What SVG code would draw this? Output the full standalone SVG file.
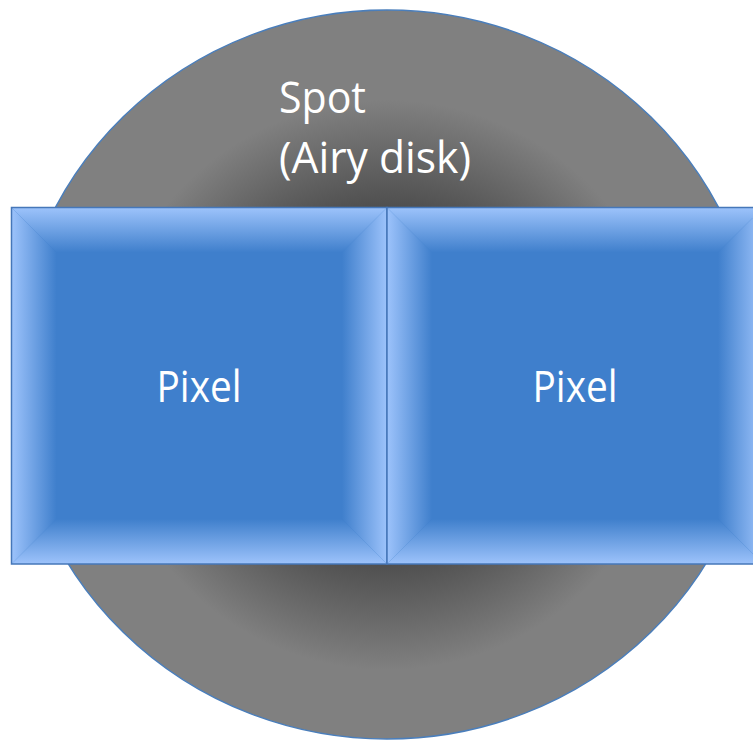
<svg xmlns="http://www.w3.org/2000/svg" width="753" height="741" viewBox="0 0 753 741">
  <defs>
    <radialGradient id="spotGrad" gradientUnits="userSpaceOnUse" cx="387" cy="385" r="285">
      <stop offset="0" stop-color="#1e1e1e"/>
      <stop offset="0.6" stop-color="#4c4c4c"/>
      <stop offset="1" stop-color="#808080"/>
    </radialGradient>
    <linearGradient id="bTop" x1="0" y1="0" x2="0" y2="1">
      <stop offset="0" stop-color="#9dc3fb"/>
      <stop offset="1" stop-color="#3f7fcc"/>
    </linearGradient>
    <linearGradient id="bBottom" x1="0" y1="1" x2="0" y2="0">
      <stop offset="0" stop-color="#9dc3fb"/>
      <stop offset="1" stop-color="#3f7fcc"/>
    </linearGradient>
    <linearGradient id="bLeft" x1="0" y1="0" x2="1" y2="0">
      <stop offset="0" stop-color="#9dc3fb"/>
      <stop offset="1" stop-color="#3f7fcc"/>
    </linearGradient>
    <linearGradient id="bRight" x1="1" y1="0" x2="0" y2="0">
      <stop offset="0" stop-color="#9dc3fb"/>
      <stop offset="1" stop-color="#3f7fcc"/>
    </linearGradient>
    <style>
      .label { font-family: "Open Sans", "Noto Sans", "Liberation Sans", sans-serif; font-size: 44px; fill: #ffffff; }
      .face { fill: #3f7fcc; }
      .frame { fill: none; stroke: #4677b9; stroke-width: 1.5; }
    </style>
  </defs>

  <g id="spot">
    <ellipse cx="387" cy="374.5" rx="373" ry="364.5" fill="url(#spotGrad)" stroke="#4a7ebb" stroke-width="1.5"/>
    <text class="label" x="279" y="113" textLength="87" lengthAdjust="spacingAndGlyphs">Spot</text>
    <text class="label" x="279" y="173" textLength="192" lengthAdjust="spacingAndGlyphs">(Airy disk)</text>
  </g>

  <g id="pixel-left">
    <rect class="face" x="11.5" y="207.5" width="375.5" height="356.5"/>
    <polygon points="11.5,207.5 387,207.5 342,252.5 56.5,252.5" fill="url(#bTop)"/>
    <polygon points="11.5,564 387,564 342,519 56.5,519" fill="url(#bBottom)"/>
    <polygon points="11.5,207.5 56.5,252.5 56.5,519 11.5,564" fill="url(#bLeft)"/>
    <polygon points="387,207.5 342,252.5 342,519 387,564" fill="url(#bRight)"/>
    <rect class="frame" x="11.5" y="207.5" width="375.5" height="356.5"/>
    <text class="label" x="199" y="402" text-anchor="middle" textLength="85" lengthAdjust="spacingAndGlyphs">Pixel</text>
  </g>

  <g id="pixel-right">
    <rect class="face" x="387" y="207.5" width="376" height="356.5"/>
    <polygon points="387,207.5 763,207.5 718,252.5 432,252.5" fill="url(#bTop)"/>
    <polygon points="387,564 763,564 718,519 432,519" fill="url(#bBottom)"/>
    <polygon points="387,207.5 432,252.5 432,519 387,564" fill="url(#bLeft)"/>
    <polygon points="763,207.5 718,252.5 718,519 763,564" fill="url(#bRight)"/>
    <rect class="frame" x="387" y="207.5" width="376" height="356.5"/>
    <text class="label" x="575" y="402" text-anchor="middle" textLength="85" lengthAdjust="spacingAndGlyphs">Pixel</text>
  </g>
</svg>
